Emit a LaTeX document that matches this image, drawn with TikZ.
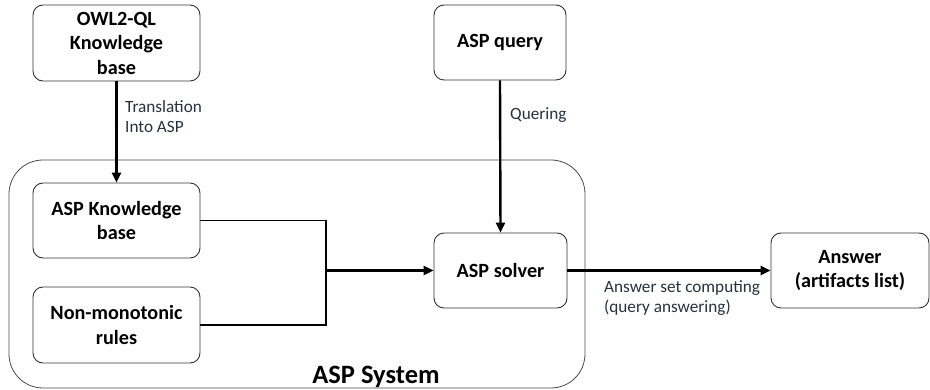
\documentclass[tikz,border=0pt]{standalone}
\usepackage{fontspec}
\setmainfont{Carlito}
\usetikzlibrary{arrows.meta}
\definecolor{lblcol}{HTML}{27313F}
\begin{document}
\begin{tikzpicture}[x=1pt,y=-1pt,
  box/.style={draw=black!80, line width=0.9pt, rounded corners=10pt, align=center,
    font=\fontsize{20.2}{24.5}\selectfont\bfseries, inner sep=0pt},
  sysbox/.style={draw=black!70, line width=0.8pt, rounded corners=34pt, inner sep=0pt},
  arr/.style={line width=2.4pt, -{Triangle[length=10pt,width=9pt]}},
  link/.style={line width=1.5pt},
  lbl/.style={font=\fontsize{17.2}{20}\selectfont, text=lblcol, align=left, inner sep=0pt}]
\useasboundingbox (0,0) rectangle (930,390);
% big system box
\node[sysbox, minimum width=576, minimum height=228] (sys) at (297,274) {};
\node[font=\fontsize{26.5}{30}\selectfont\bfseries, anchor=base, inner sep=0pt] (systxt) at (376,384) {ASP System};
% boxes
\node[box, minimum width=167, minimum height=76] (owl) at (116.5,43) {OWL2-QL\\Knowledge\\base};
\node[box, minimum width=167, minimum height=75] (kb) at (116.5,220.5) {ASP Knowledge\\base};
\node[box, minimum width=167, minimum height=76] (nm) at (116.5,325) {Non-monotonic\\rules};
\node[box, minimum width=132, minimum height=75] (query) at (500,42.5) {ASP query};
\node[box, minimum width=133, minimum height=75] (solver) at (500.5,270.5) {ASP solver};
\node[box, minimum width=158, minimum height=75] (answer) at (850,270.5) {Answer\\(artifacts list)};
% connectors
\coordinate (j) at (326,270.5);
\draw[arr] (owl.south) -- (kb.north);
\draw[arr] (query.south) -- (solver.north);
\draw[link] (kb.east) -| (j) |- (nm.east);
\draw[arr] (j) -- (solver.west);
\draw[arr] (solver.east) -- (answer.west);
% labels
\node[lbl, anchor=north west] (ltrans) at (125,100) {Translation\\Into ASP};
\node[lbl, anchor=north west] (lquery) at (510,107) {Quering};
\node[lbl, anchor=north west] (lans) at (604,280) {Answer set computing\\(query answering)};
\end{tikzpicture}
\end{document}
